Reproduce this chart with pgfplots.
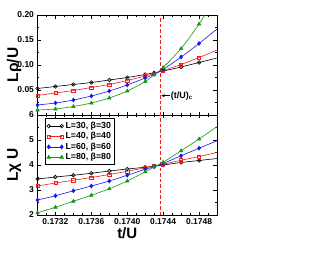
\documentclass[border=0pt]{standalone}
\usepackage{fontspec}
\setmainfont{Liberation Sans}
\usepackage{pgfplots}
\usepackage{pgfplotstable}
\pgfplotsset{compat=1.18}
\usetikzlibrary{arrows.meta}
\definecolor{mygreen}{RGB}{20,150,20}
\definecolor{myred}{RGB}{240,30,30}
\definecolor{myblue}{RGB}{20,20,240}

\pgfplotstableread{
t      k      r      b      g
0.1730 0.053  0.039  0.020  0.010
0.1732 0.057  0.044  0.024  0.012
0.1734 0.061  0.049  0.030  0.017
0.1736 0.065  0.055  0.038  0.024
0.1738 0.070  0.061  0.048  0.034
0.1740 0.075  0.069  0.060  0.048
0.1742 0.081  0.078  0.074  0.067
0.1743 0.0845 0.083  0.0815 0.0805
0.1744 0.088  0.089  0.091  0.095
0.1746 0.096  0.101  0.116  0.133
0.1748 0.105  0.115  0.143  0.182
0.1750 0.114  0.130  0.172  0.240
}\toptable

\pgfplotstableread{
t      k     r     b     g
0.1730 3.44  3.16  2.60  2.09
0.1732 3.52  3.28  2.77  2.31
0.1734 3.59  3.39  2.97  2.55
0.1736 3.67  3.50  3.16  2.79
0.1738 3.76  3.62  3.36  3.05
0.1740 3.84  3.75  3.59  3.36
0.1742 3.91  3.89  3.83  3.73
0.1743 3.96  3.96  3.93  3.93
0.1744 4.00  4.03  4.06  4.11
0.1746 4.10  4.19  4.37  4.57
0.1748 4.18  4.34  4.67  5.04
0.1750 4.26  4.50  4.97  5.53
}\bottable

\pgfplotsset{
  common/.style={
    scale only axis, width=179.5pt, height=100pt,
    xmin=0.1730, xmax=0.1750,
    xtick={0.1732,0.1736,0.1740,0.1744,0.1748},
    minor xtick={0.1730,0.1731,0.1733,0.1734,0.1735,0.1737,0.1738,0.1739,0.1741,0.1742,0.1743,0.1745,0.1746,0.1747,0.1749,0.1750},
    tick align=inside,
    major tick length=3.5pt, minor tick length=2pt,
    axis line style={line width=0.9pt},
    every tick/.style={black, line width=0.7pt},
    tick label style={font=\bfseries\fontsize{8.5}{10}\selectfont},
    /pgf/number format/assume math mode=true,
    xticklabel style={/pgf/number format/.cd, fixed, fixed zerofill, precision=4},
    every axis y label/.style={at={(axis description cs:-0.13,0.5)}, rotate=90, anchor=center, font=\bfseries\fontsize{15.5}{17}\selectfont},
    every axis x label/.style={at={(axis description cs:0.5,-0.185)}, anchor=center, font=\bfseries\fontsize{15}{17}\selectfont},
    legend image code/.code={\draw[mark repeat=1,mark phase=1,#1] plot coordinates {(0pt,0pt) (13pt,0pt)};},
  },
  lk/.style={black, line width=0.6pt, smooth, forget plot},
  lr/.style={myred, line width=0.6pt, smooth, forget plot},
  lb/.style={myblue, line width=0.6pt, smooth, forget plot},
  lg/.style={mygreen, line width=0.6pt, smooth, forget plot},
  mk/.style={black, only marks, mark=o, mark size=1.8pt, mark options={line width=0.6pt}, skip coords between index={11}{12}, forget plot},
  mr/.style={myred, only marks, mark=square, mark size=1.6pt, mark options={line width=0.6pt}, skip coords between index={11}{12}, forget plot},
  mb/.style={myblue, only marks, mark=diamond*, mark size=2pt, mark options={line width=0.5pt}, skip coords between index={11}{12}, forget plot},
  mg/.style={mygreen, only marks, mark=triangle*, mark size=2pt, mark options={line width=0.5pt}, skip coords between index={11}{12}, forget plot},
}

\begin{document}
\begin{tikzpicture}[x=1pt,y=1pt]
\path[use as bounding box] (0,0) rectangle (330,255);

\begin{axis}[common, at={(37.5pt,140pt)}, anchor=south west,
  ymin=0, ymax=0.20, ytick={0.05,0.10,0.15,0.20},
  minor ytick={0.025,0.075,0.125,0.175},
  yticklabel style={/pgf/number format/.cd, fixed, fixed zerofill, precision=2},
  xticklabels={},
  ylabel={Lρ/U}]
\addplot[myred, dashed, dash pattern=on 3.5pt off 2pt, line width=0.9pt, forget plot] coordinates {(0.17437,0) (0.17437,0.2)};
\addplot[lk] table[x=t,y=k]{\toptable};
\addplot[lr] table[x=t,y=r]{\toptable};
\addplot[lb] table[x=t,y=b]{\toptable};
\addplot[lg] table[x=t,y=g]{\toptable};
\addplot[mk] table[x=t,y=k]{\toptable};
\addplot[mr] table[x=t,y=r]{\toptable};
\addplot[mb] table[x=t,y=b]{\toptable};
\addplot[mg] table[x=t,y=g]{\toptable};
\draw[-{Stealth[length=3.5pt,width=3pt]}, line width=0.6pt] (axis cs:0.174478,0.0386) -- (axis cs:0.17438,0.0386);
\node[anchor=west, inner sep=0.5pt, font=\bfseries\fontsize{9}{10}\selectfont] at (axis cs:0.174478,0.0386) {(t/U)\textsubscript{c}};
\end{axis}

\begin{axis}[common, at={(37.5pt,40pt)}, anchor=south west,
  ymin=2, ymax=6, ytick={2,3,4,5,6},
  minor ytick={2.5,3.5,4.5,5.5},
  xlabel={t/U},
  ylabel={Lχ U},
  legend style={at={(0.042,0.967)}, anchor=north west, draw=black, line width=0.8pt,
    font=\bfseries\fontsize{8.8}{11}\selectfont, row sep=-1.5pt,
    inner sep=1.5pt, cells={anchor=west}},
  legend cell align=left]
\addplot[myred, dashed, dash pattern=on 3.5pt off 2pt, line width=0.9pt, forget plot] coordinates {(0.17437,2) (0.17437,6)};
\addplot[lk] table[x=t,y=k]{\bottable};
\addplot[lr] table[x=t,y=r]{\bottable};
\addplot[lb] table[x=t,y=b]{\bottable};
\addplot[lg] table[x=t,y=g]{\bottable};
\addplot[mk] table[x=t,y=k]{\bottable};
\addplot[mr] table[x=t,y=r]{\bottable};
\addplot[mb] table[x=t,y=b]{\bottable};
\addplot[mg] table[x=t,y=g]{\bottable};
\addlegendimage{black, line width=0.6pt, mark=o, mark size=1.8pt}
\addlegendentry{L=30, β=30}
\addlegendimage{myred, line width=0.6pt, mark=square, mark size=1.6pt}
\addlegendentry{L=40, β=40}
\addlegendimage{myblue, line width=0.6pt, mark=diamond*, mark size=2pt}
\addlegendentry{L=60, β=60}
\addlegendimage{mygreen, line width=0.6pt, mark=triangle*, mark size=2pt}
\addlegendentry{L=80, β=80}
\end{axis}
\end{tikzpicture}
\end{document}
